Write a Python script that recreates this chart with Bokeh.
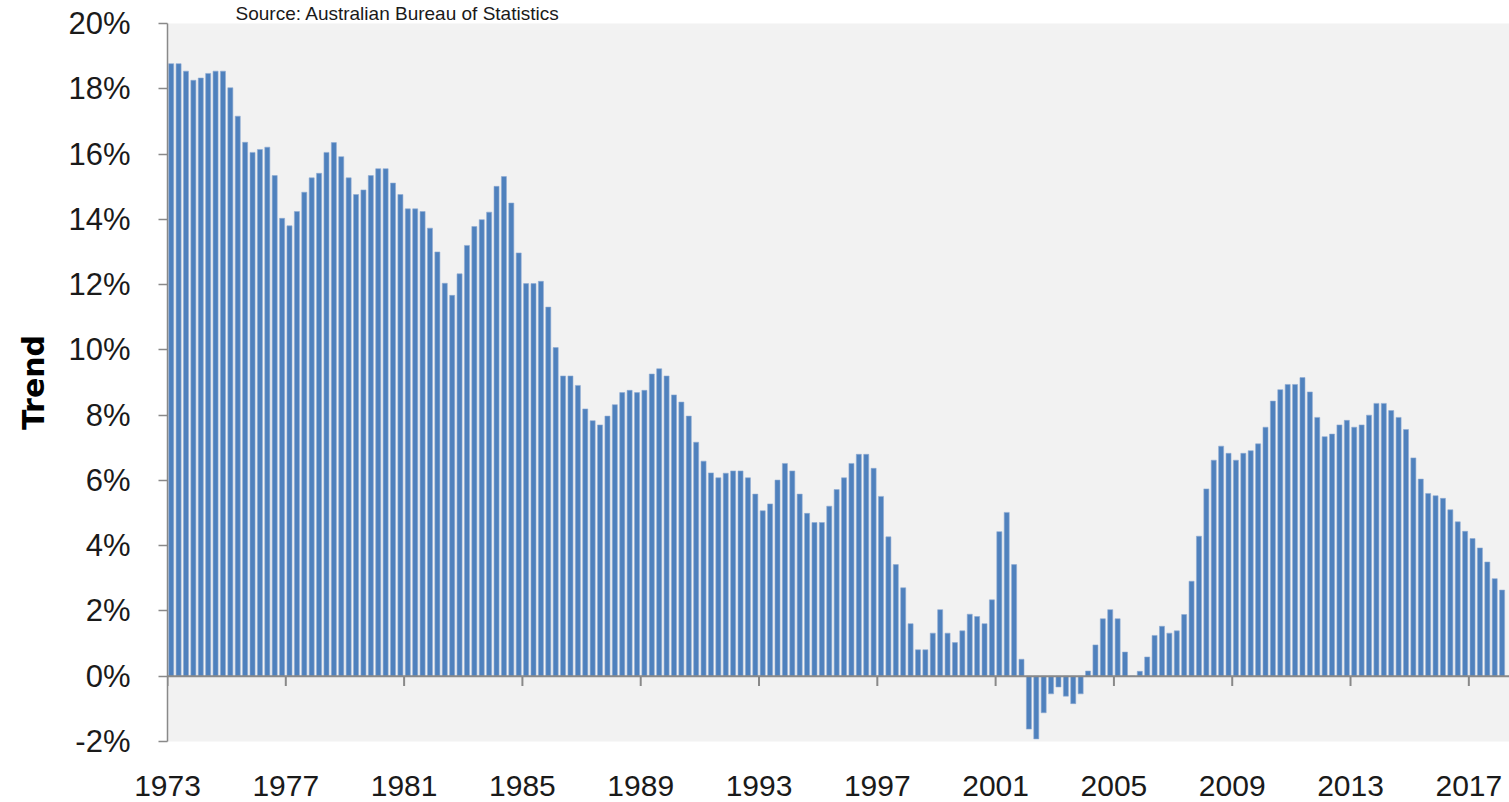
from bokeh.plotting import figure
from bokeh.models import (Range1d, FixedTicker, PrintfTickFormatter, Span,
                          ColumnDataSource)
from bokeh.embed import file_html
from bokeh.resources import INLINE

# ---- data (quarterly, 1973 Q1 .. 2018 Q1), percent ----
growth = [
    18.77, 18.77, 18.54, 18.26, 18.33, 18.47, 18.54, 18.54, 18.03, 17.16,
    16.36, 16.05, 16.14, 16.21, 15.34, 14.03, 13.80, 14.24, 14.83, 15.27,
    15.41, 16.05, 16.35, 15.92, 15.27, 14.76, 14.90, 15.34, 15.55, 15.55,
    15.11, 14.76, 14.32, 14.32, 14.24, 13.73, 13.00, 12.04, 11.67, 12.33,
    13.20, 13.78, 13.99, 14.22, 15.01, 15.31, 14.50, 12.97, 12.03, 12.03,
    12.10, 11.31, 10.07, 9.20, 9.20, 8.91, 8.19, 7.83, 7.70, 7.97,
    8.32, 8.69, 8.76, 8.69, 8.76, 9.26, 9.42, 9.20, 8.62, 8.40,
    7.97, 7.17, 6.59, 6.23, 6.08, 6.22, 6.29, 6.29, 6.08, 5.58,
    5.07, 5.28, 6.01, 6.52, 6.29, 5.58, 4.99, 4.71, 4.71, 5.21,
    5.72, 6.08, 6.52, 6.80, 6.80, 6.37, 5.51, 4.27, 3.42, 2.71,
    1.61, 0.81, 0.81, 1.32, 2.04, 1.32, 1.03, 1.39, 1.90, 1.83,
    1.61, 2.34, 4.43, 5.02, 3.42, 0.52, -1.62, -1.92, -1.12, -0.54,
    -0.33, -0.61, -0.84, -0.54, 0.16, 0.96, 1.76, 2.04, 1.76, 0.74,
    0.00, 0.15, 0.59, 1.25, 1.53, 1.32, 1.39, 1.89, 2.91, 4.29,
    5.74, 6.62, 7.05, 6.83, 6.62, 6.83, 6.91, 7.12, 7.63, 8.43,
    8.78, 8.94, 8.94, 9.15, 8.71, 7.93, 7.34, 7.42, 7.70, 7.84,
    7.63, 7.70, 8.00, 8.36, 8.36, 8.14, 7.93, 7.56, 6.69, 6.04,
    5.60, 5.53, 5.45, 5.10, 4.73, 4.44, 4.22, 3.93, 3.50, 2.99,
    2.64,
]
first_year = 1973
year_labels = ["1973", "1977", "1981", "1985", "1989", "1993", "1997",
               "2001", "2005", "2009", "2013", "2017"]
y_ticks = [-2, 0, 2, 4, 6, 8, 10, 12, 14, 16, 18, 20]
y_title = "Trend"
source_text = "Source: Australian Bureau of Statistics"

# ---- derived ----
quarter_pos = [i + 0.5 for i in range(len(growth))]
year_pos = [(int(y) - first_year) * 4 for y in year_labels]

FONT = "Liberation Sans"
GRAY = "#898989"

p = figure(width=1509, height=802, output_backend="svg", toolbar_location=None,
           x_range=Range1d(0, len(growth) + 0.5), y_range=Range1d(-2, 20),
           min_border_left=167, min_border_right=0, min_border_top=23,
           min_border_bottom=61)
p.background_fill_color = "#f2f2f2"
p.border_fill_color = "white"
p.outline_line_color = None
p.xgrid.visible = False
p.ygrid.visible = False

# source note as title (top border)
p.title.text = source_text
p.title.text_font = FONT
p.title.text_font_size = "19px"
p.title.text_font_style = "normal"
p.title.text_color = "#1a1a1a"
p.title.align = "left"
p.title.offset = 68
p.title.standoff = 0

# bars
src = ColumnDataSource(dict(x=quarter_pos, top=growth))
p.vbar(x="x", top="top", bottom=0, width=0.68, source=src,
       fill_color="#4f81bd", line_color="#8fabd3", line_width=0.6)

# zero line (category axis) with its tick marks
p.add_layout(Span(location=0, dimension="width", line_color=GRAY, line_width=2))
p.segment(x0=year_pos, y0=[0] * len(year_pos), x1=year_pos,
          y1=[-0.3] * len(year_pos), line_color=GRAY, line_width=2)

# x axis: labels only (placed low, as in the original)
xa = p.xaxis[0]
xa.ticker = FixedTicker(ticks=year_pos)
xa.major_label_overrides = {xp: t for xp, t in zip(year_pos, year_labels)}
xa.axis_line_color = None
xa.major_tick_line_color = None
xa.minor_tick_line_color = None
xa.major_tick_out = 0
xa.major_tick_in = 0
xa.major_label_standoff = 34
xa.major_label_text_font = FONT
xa.major_label_text_font_size = "30px"
xa.major_label_text_color = "#1a1a1a"

# y axis
ya = p.yaxis[0]
ya.ticker = FixedTicker(ticks=y_ticks)
ya.formatter = PrintfTickFormatter(format="%d%%")
ya.axis_line_color = GRAY
ya.axis_line_width = 1.5
ya.major_tick_line_color = GRAY
ya.major_tick_line_width = 1.5
ya.major_tick_out = 9
ya.major_tick_in = 0
ya.minor_tick_line_color = None
ya.major_label_standoff = 28
ya.major_label_text_font = FONT
ya.major_label_text_font_size = "31px"
ya.major_label_text_color = "#1a1a1a"
ya.axis_label = y_title
ya.axis_label_text_font = "DejaVu Sans"
ya.axis_label_text_font_style = "bold"
ya.axis_label_text_font_size = "30px"
ya.axis_label_text_color = "#000000"
ya.axis_label_standoff = 14

open("out.html", "w").write(file_html(p, INLINE))
